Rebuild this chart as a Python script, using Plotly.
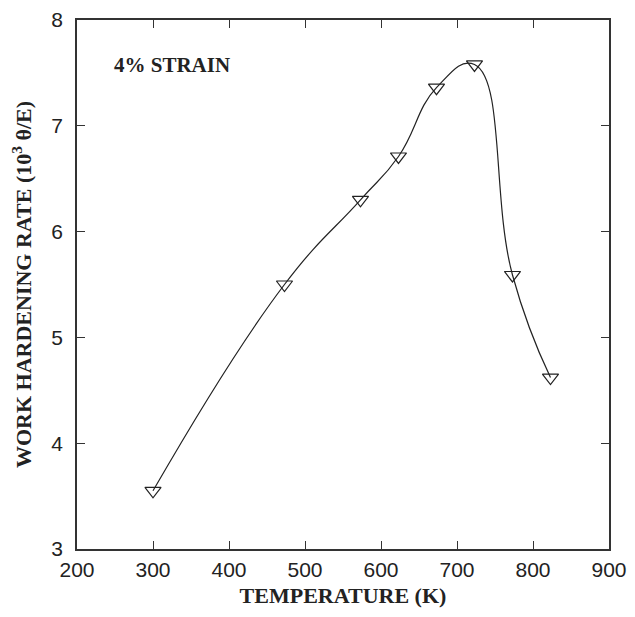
import plotly.graph_objects as go

temperature = [300, 473, 573, 623, 673, 723, 773, 823]
hardening_rate = [3.55, 5.50, 6.30, 6.71, 7.36, 7.58, 5.59, 4.62]
x_ticks = [200, 300, 400, 500, 600, 700, 800, 900]
y_ticks = [3, 4, 5, 6, 7, 8]

fig = go.Figure()
fig.add_trace(go.Scatter(
    x=temperature, y=hardening_rate, mode="lines+markers",
    line=dict(color="#222", width=1.2, shape="spline", smoothing=1.3),
    marker=dict(symbol="triangle-down-open", size=14, color="#222", line=dict(width=1.2)),
    showlegend=False,
))

axis_common = dict(showline=True, linecolor="#333", linewidth=1.5, mirror="ticks",
                   ticks="inside", ticklen=8, tickcolor="#333", tickwidth=1.2,
                   showgrid=False, zeroline=False, automargin=False,
                   tickfont=dict(family="Liberation Sans, Arial", size=21, color="#222"))

fig.update_xaxes(range=[200, 900], tickvals=x_ticks, ticklabelstandoff=1,
                 title=dict(text="<b>TEMPERATURE (K)</b>", standoff=8,
                            font=dict(family="Liberation Serif, Times New Roman", size=22, color="#222")),
                 **axis_common)
fig.update_yaxes(range=[3, 8], tickvals=y_ticks, ticklabelstandoff=8,
                 title=dict(text="<b>WORK HARDENING RATE (10<sup>3</sup> θ/E)</b>", standoff=22,
                            font=dict(family="Liberation Serif, Times New Roman", size=22, color="#222")),
                 **axis_common)

fig.add_annotation(x=0.065, y=0.915, xref="paper", yref="paper", xanchor="left", yanchor="middle",
                   text="<b>4% STRAIN</b>", showarrow=False,
                   font=dict(family="Liberation Serif, Times New Roman", size=21, color="#222"))

fig.update_layout(width=619, height=601, plot_bgcolor="white", paper_bgcolor="white",
                  margin=dict(l=69, r=18, t=12, b=60))

fig.write_html("out.html")
